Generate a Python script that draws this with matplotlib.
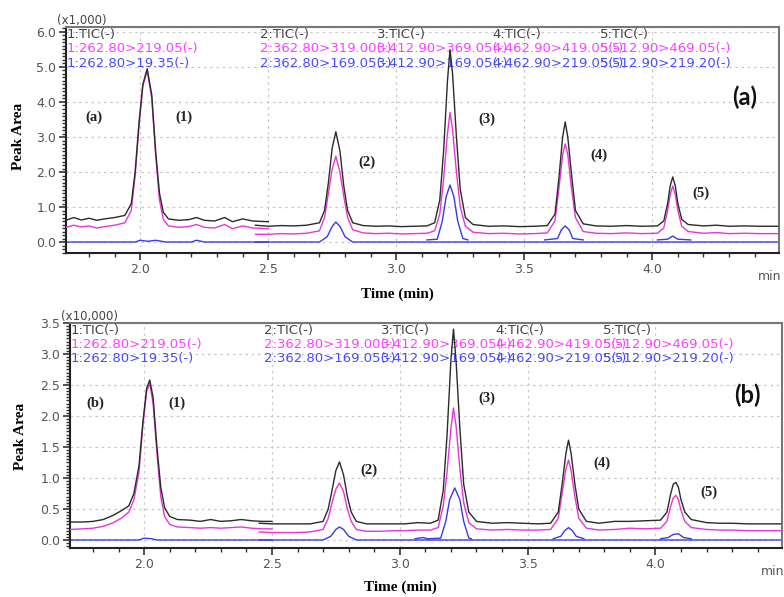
import matplotlib
matplotlib.use("Agg")
import matplotlib.pyplot as plt
import matplotlib.transforms as mtransforms
from matplotlib.ticker import MultipleLocator

# ---- data ----
# segment A: 1.71-2.50 min, peak (1)
tA_a = [1.71, 1.74, 1.77, 1.80, 1.83, 1.86, 1.90, 1.94, 1.965, 1.98, 1.995, 2.01, 2.027, 2.045,
        2.06, 2.075, 2.09, 2.11, 2.15, 2.19, 2.22, 2.25, 2.29, 2.33, 2.36, 2.40, 2.44, 2.50]
tic_A_a = [0.62, 0.70, 0.63, 0.68, 0.62, 0.66, 0.70, 0.76, 1.1, 2.0, 3.4, 4.5, 4.95, 4.2,
           2.6, 1.4, 0.85, 0.66, 0.62, 0.64, 0.70, 0.62, 0.60, 0.70, 0.58, 0.66, 0.60, 0.58]
q1_A_a = [0.42, 0.48, 0.43, 0.46, 0.40, 0.44, 0.48, 0.55, 0.9, 1.9, 3.3, 4.45, 4.9, 4.1,
          2.5, 1.2, 0.65, 0.46, 0.42, 0.44, 0.50, 0.42, 0.40, 0.50, 0.38, 0.46, 0.40, 0.38]

tA_b = [1.71, 1.76, 1.80, 1.84, 1.88, 1.91, 1.94, 1.96, 1.98, 1.995, 2.01, 2.022, 2.035, 2.05,
        2.065, 2.08, 2.10, 2.13, 2.18, 2.22, 2.26, 2.30, 2.34, 2.38, 2.42, 2.46, 2.50]
tic_A_b = [0.29, 0.29, 0.30, 0.33, 0.40, 0.47, 0.55, 0.75, 1.2, 1.9, 2.45, 2.58, 2.3, 1.5,
           0.85, 0.52, 0.38, 0.33, 0.32, 0.30, 0.33, 0.30, 0.31, 0.33, 0.31, 0.30, 0.30]
q1_A_b = [0.17, 0.18, 0.19, 0.22, 0.28, 0.35, 0.45, 0.65, 1.1, 1.85, 2.4, 2.52, 2.2, 1.4,
          0.7, 0.38, 0.25, 0.21, 0.20, 0.19, 0.20, 0.19, 0.20, 0.21, 0.19, 0.18, 0.18]

# segment B: 2.45-4.49 min, peaks (2)-(5)
tB = [2.45, 2.50, 2.55, 2.60, 2.65, 2.70, 2.72, 2.735, 2.75, 2.764, 2.78, 2.795, 2.81, 2.83,
      2.87, 2.92, 2.97, 3.02, 3.07, 3.12, 3.15, 3.17, 3.185, 3.20, 3.21, 3.22, 3.235, 3.25,
      3.27, 3.30, 3.36, 3.42, 3.48, 3.54, 3.59, 3.62, 3.635, 3.65, 3.66, 3.67, 3.685, 3.70,
      3.73, 3.78, 3.84, 3.90, 3.96, 4.02, 4.045, 4.06, 4.07, 4.08, 4.09, 4.10, 4.115, 4.14,
      4.20, 4.25, 4.30, 4.36, 4.42, 4.49]
tic_B_a = [0.48, 0.45, 0.47, 0.46, 0.48, 0.55, 0.9, 1.7, 2.7, 3.15, 2.6, 1.6, 0.9, 0.55,
           0.47, 0.45, 0.46, 0.44, 0.45, 0.46, 0.55, 1.2, 2.6, 4.6, 5.5, 4.8, 3.0, 1.5,
           0.7, 0.5, 0.45, 0.46, 0.44, 0.45, 0.47, 0.8, 1.8, 3.0, 3.43, 3.0, 1.9, 0.9,
           0.52, 0.46, 0.45, 0.47, 0.45, 0.46, 0.6, 1.1, 1.6, 1.86, 1.6, 1.1, 0.65, 0.5,
           0.46, 0.48, 0.45, 0.46, 0.45, 0.45]
q1_B_a = [0.22, 0.22, 0.24, 0.23, 0.25, 0.32, 0.7, 1.4, 2.1, 2.45, 2.0, 1.3, 0.7, 0.35,
          0.26, 0.24, 0.25, 0.23, 0.24, 0.25, 0.32, 0.8, 1.8, 3.1, 3.7, 3.2, 2.0, 1.0,
          0.45, 0.28, 0.24, 0.25, 0.23, 0.24, 0.26, 0.6, 1.5, 2.5, 2.8, 2.5, 1.5, 0.7,
          0.3, 0.25, 0.24, 0.26, 0.24, 0.25, 0.4, 0.9, 1.35, 1.6, 1.35, 0.9, 0.45, 0.3,
          0.25, 0.27, 0.24, 0.25, 0.24, 0.24]
tic_B_b = [0.27, 0.26, 0.26, 0.26, 0.26, 0.30, 0.5, 0.8, 1.12, 1.26, 1.05, 0.7, 0.45, 0.3,
           0.26, 0.26, 0.26, 0.26, 0.28, 0.27, 0.32, 0.8, 1.7, 2.9, 3.4, 2.9, 1.8, 0.9,
           0.45, 0.3, 0.27, 0.28, 0.27, 0.26, 0.27, 0.45, 0.9, 1.4, 1.61, 1.4, 0.9, 0.5,
           0.3, 0.27, 0.30, 0.30, 0.31, 0.32, 0.45, 0.75, 0.9, 0.93, 0.85, 0.65, 0.45, 0.33,
           0.28, 0.27, 0.27, 0.26, 0.26, 0.26]
q1_B_b = [0.13, 0.12, 0.12, 0.12, 0.13, 0.17, 0.35, 0.6, 0.82, 0.92, 0.78, 0.5, 0.3, 0.17,
          0.14, 0.14, 0.15, 0.15, 0.16, 0.16, 0.2, 0.55, 1.1, 1.8, 2.13, 1.85, 1.15, 0.6,
          0.28, 0.18, 0.16, 0.17, 0.16, 0.16, 0.17, 0.35, 0.75, 1.15, 1.29, 1.12, 0.7, 0.35,
          0.19, 0.16, 0.17, 0.19, 0.18, 0.19, 0.3, 0.55, 0.68, 0.72, 0.65, 0.48, 0.3, 0.2,
          0.17, 0.16, 0.16, 0.15, 0.15, 0.15]

# second (qualifier) transition, blue, short windows
blue_a = [
    ([1.71, 1.98, 2.00, 2.03, 2.06, 2.10, 2.20, 2.22, 2.25, 2.50],
     [0.0, 0.0, 0.05, 0.02, 0.05, 0.0, 0.0, 0.05, 0.0, 0.0]),
    ([2.45, 2.70, 2.73, 2.75, 2.764, 2.78, 2.80, 2.83, 4.49],
     [0.0, 0.0, 0.15, 0.45, 0.57, 0.45, 0.15, 0.0, 0.0]),
    ([3.12, 3.16, 3.18, 3.195, 3.21, 3.225, 3.24, 3.26, 3.28],
     [0.06, 0.08, 0.6, 1.3, 1.63, 1.3, 0.6, 0.1, 0.06]),
    ([3.58, 3.63, 3.645, 3.66, 3.675, 3.69, 3.73],
     [0.06, 0.1, 0.35, 0.46, 0.35, 0.1, 0.06]),
    ([4.02, 4.06, 4.08, 4.10, 4.15],
     [0.06, 0.08, 0.17, 0.08, 0.06]),
]
blue_b = [
    ([1.71, 1.98, 2.00, 2.03, 2.05, 2.50],
     [0.0, 0.0, 0.03, 0.02, 0.0, 0.0]),
    ([2.45, 2.70, 2.73, 2.75, 2.764, 2.78, 2.80, 2.83, 4.49],
     [0.0, 0.0, 0.06, 0.17, 0.21, 0.17, 0.06, 0.0, 0.0]),
    ([3.06, 3.09, 3.11, 3.16, 3.18, 3.195, 3.215, 3.235, 3.25, 3.27, 3.28],
     [0.02, 0.04, 0.02, 0.03, 0.3, 0.65, 0.84, 0.65, 0.3, 0.03, 0.02]),
    ([3.60, 3.63, 3.645, 3.66, 3.675, 3.69, 3.72],
     [0.02, 0.06, 0.15, 0.2, 0.15, 0.06, 0.02]),
    ([4.02, 4.05, 4.07, 4.09, 4.11, 4.14],
     [0.02, 0.04, 0.09, 0.1, 0.04, 0.02]),
]

# header text of the MRM windows
seg_x = [1.712, 2.469, 2.925, 3.375, 3.795]
tic_names = ["1:TIC(-)", "2:TIC(-)", "3:TIC(-)", "4:TIC(-)", "5:TIC(-)"]
q1_names = ["1:262.80>219.05(-)", "2:362.80>319.00(-)", "3:412.90>369.05(-)",
            "4:462.90>419.05(-)", "5:512.90>469.05(-)"]
q2_names = ["1:262.80>19.35(-)", "2:362.80>169.05(-)", "3:412.90>169.05(-)",
            "4:462.90>219.05(-)", "5:512.90>219.20(-)"]

peak_names = ["(1)", "(2)", "(3)", "(4)", "(5)"]
lab_a = [(2.17, 3.57), (2.887, 2.29), (3.355, 3.51), (3.79, 2.49), (4.19, 1.40)]
lab_b = [(2.13, 2.21), (2.88, 1.13), (3.34, 2.29), (3.79, 1.24), (4.21, 0.77)]

BLACK = "#2b2b2b"
MAG = "#e636d8"
BLUE = "#3a3ae6"

fig = plt.figure(figsize=(7.84, 5.97), dpi=100)
ax1 = fig.add_axes([0.0842, 0.5762, 0.9094, 0.3786])
ax2 = fig.add_axes([0.0893, 0.0821, 0.9081, 0.3769])


def draw(ax, tA, ticA, q1A, ticB, q1B, blues, ylim, ymaj, ymin, mult, labs, tag, smalltag, bigtag):
    for t, v in blues:
        ax.plot(t, v, color=BLUE, lw=1.0, zorder=2)
    ax.plot(tA, q1A, color=MAG, lw=1.0, zorder=3)
    ax.plot(tB, q1B, color=MAG, lw=1.0, zorder=3)
    ax.plot(tA, ticA, color=BLACK, lw=1.0, zorder=4)
    ax.plot(tB, ticB, color=BLACK, lw=1.0, zorder=4)

    ax.set_xlim(1.71, 4.495)
    ax.set_ylim(*ylim)
    ax.xaxis.set_major_locator(MultipleLocator(0.5))
    ax.xaxis.set_minor_locator(MultipleLocator(0.1))
    ax.yaxis.set_major_locator(MultipleLocator(ymaj))
    ax.yaxis.set_minor_locator(MultipleLocator(ymin))
    ax.set_xticks([2.0, 2.5, 3.0, 3.5, 4.0])
    ax.set_xticklabels(["2.0", "2.5", "3.0", "3.5", "4.0"])
    ax.set_yticklabels(["%.1f" % v for v in ax.get_yticks()])
    ax.grid(True, which="major", linestyle=(0, (2, 3)), color="#c8c8c8", lw=0.9)
    ax.tick_params(axis="both", which="major", length=5, width=1.2, labelsize=9,
                   labelcolor="#555555", color="#333333", pad=2)
    ax.tick_params(axis="both", which="minor", length=3, width=1.0, color="#333333")
    for s in ["top", "right"]:
        ax.spines[s].set_color("#777777")
        ax.spines[s].set_linewidth(1.5)
    for s in ["left", "bottom"]:
        ax.spines[s].set_color("#222222")
        ax.spines[s].set_linewidth(1.5)

    tr = mtransforms.blended_transform_factory(ax.transData, ax.transAxes)
    ax.text(4.46, -0.075, "min", transform=tr, ha="center", va="top", fontsize=9, color="#555555")
    ax.text(-0.012, 1.0, mult, transform=ax.transAxes, ha="left", va="bottom",
            fontsize=8.5, color="#444444")

    for i in range(5):
        ax.text(seg_x[i], 0.968, tic_names[i], transform=tr, fontsize=9.5, color="#444444", va="center")
        ax.text(seg_x[i], 0.903, q1_names[i], transform=tr, fontsize=9.5, color="#ff40ff", va="center")
        ax.text(seg_x[i], 0.840, q2_names[i], transform=tr, fontsize=9.5, color="#4a4aff", va="center")

    for name, (x, y) in zip(peak_names, labs):
        ax.text(x, y, name, ha="center", va="center", fontsize=10.5, fontweight="bold",
                family="Liberation Serif", color="#222222")
    ax.text(smalltag[0], smalltag[1], tag, ha="center", va="center", fontsize=10.5,
            fontweight="bold", family="Liberation Serif", color="#222222")
    ax.text(bigtag[0], bigtag[1], tag, ha="center", va="center", fontsize=17,
            fontweight="bold", family="Lato", color="#111111")


draw(ax1, tA_a, tic_A_a, q1_A_a, tic_B_a, q1_B_a, blue_a, (-0.314, 6.143), 1.0, 0.1,
     "(x1,000)", lab_a, "(a)", (1.82, 3.57), (4.36, 4.14))
draw(ax2, tA_b, tic_A_b, q1_A_b, tic_B_b, q1_B_b, blue_b, (-0.129, 3.5), 0.5, 0.05,
     "(x10,000)", lab_b, "(b)", (1.81, 2.21), (4.36, 2.34))

for ycen, xc in [(1 - 294 / 597, 397 / 784), (1 - 587 / 597, 400 / 784)]:
    fig.text(xc, ycen, "Time (min)", ha="center", va="center", fontsize=11,
             fontweight="bold", family="Liberation Serif")
for ycen, xc in [(1 - 136 / 597, 19 / 784), (1 - 436 / 597, 21 / 784)]:
    fig.text(xc, ycen, "Peak Area", ha="center", va="center", fontsize=11, rotation=90,
             fontweight="bold", family="Liberation Serif")

fig.savefig("out.png", dpi=100)
